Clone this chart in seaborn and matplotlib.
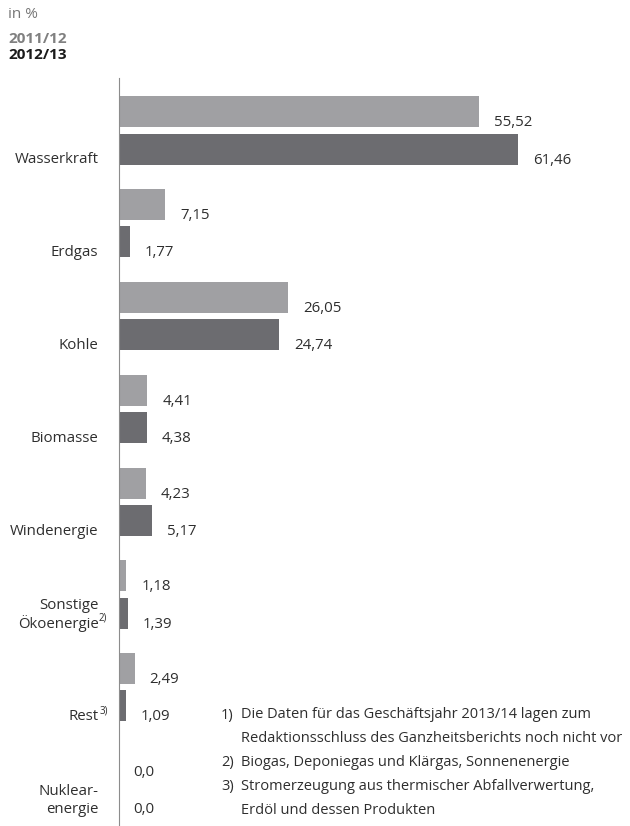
import numpy as np
import pandas as pd
import matplotlib
matplotlib.use("Agg")
import matplotlib.pyplot as plt
import seaborn as sns

# Daten (Anteile in %)
kategorien = ["Wasserkraft", "Erdgas", "Kohle", "Biomasse", "Windenergie",
              "Sonstige\nÖkoenergie", "Rest", "Nuklear-\nenergie"]
fussnoten_idx = {"Sonstige\nÖkoenergie": "2)", "Rest": "3)"}
werte_2011 = [55.52, 7.15, 26.05, 4.41, 4.23, 1.18, 2.49, 0.0]
werte_2012 = [61.46, 1.77, 24.74, 4.38, 5.17, 1.39, 1.09, 0.0]
jahre = ["2011/12", "2012/13"]
fussnoten = [
    ("1)", "Die Daten für das Geschäftsjahr 2013/14 lagen zum"),
    ("", "Redaktionsschluss des Ganzheitsberichts noch nicht vor"),
    ("2)", "Biogas, Deponiegas und Klärgas, Sonnenenergie"),
    ("3)", "Stromerzeugung aus thermischer Abfallverwertung,"),
    ("", "Erdöl und dessen Produkten"),
]

hell = "#a0a0a3"
dunkel = "#6c6c70"
text_farbe = "#2e2e2e"
fs = 10.8

sns.set_style("white")
plt.rcParams["font.family"] = ["Open Sans", "DejaVu Sans"]
plt.rcParams["font.size"] = fs

df = pd.DataFrame({
    "kategorie": kategorien * 2,
    "wert": werte_2011 + werte_2012,
    "jahr": [jahre[0]] * len(kategorien) + [jahre[1]] * len(kategorien),
})

W, H = 630, 826
fig = plt.figure(figsize=(W / 100, H / 100), dpi=100)
ax = fig.add_axes([118.5 / W, 0, 1 - 118.5 / W, 1 - 78 / H])

sns.barplot(data=df, x="wert", y="kategorie", hue="jahr", orient="h",
            palette=[hell, dunkel], saturation=1, width=0.8, gap=0.165,
            errorbar=None, legend=False, linewidth=0, ax=ax)

ax.set_xlim(0, 511.5 / 6.5)
ax.set_ylim(7.495, -0.566)
ax.set_xlabel("")
ax.set_ylabel("")
ax.set_xticks([])
ax.set_yticks([])
for s in ["top", "right", "bottom"]:
    ax.spines[s].set_visible(False)
ax.spines["left"].set_color("#8c8c8c")
ax.spines["left"].set_linewidth(0.8)

# Wertebeschriftungen
def fmt(v):
    return "0,0" if v == 0 else f"{v:.2f}".replace(".", ",")

for cont, werte in zip(ax.containers, [werte_2011, werte_2012]):
    for p, v in zip(cont.patches, werte):
        yc = p.get_y() + p.get_height() / 2
        ax.annotate(fmt(v), xy=(p.get_width(), yc), xycoords="data",
                    xytext=(10.8, -7.9), textcoords="offset points",
                    ha="left", va="center", color=text_farbe, fontsize=fs)

# Kategorienbeschriftungen
for i, kat in enumerate(kategorien):
    zeilen = kat.split("\n")
    for j, zeile in enumerate(reversed(zeilen)):
        dy = -21.2 + j * 13.3
        ax.annotate(zeile, xy=(0, i), xycoords=ax.get_yaxis_transform(),
                    xytext=(-14.4, dy), textcoords="offset points",
                    ha="right", va="center", color=text_farbe, fontsize=fs)
        if j == 0 and kat in fussnoten_idx:
            ax.annotate(fussnoten_idx[kat], xy=(0, i), xycoords=ax.get_yaxis_transform(),
                        xytext=(-14.0, dy + 4), textcoords="offset points",
                        ha="left", va="center", color=text_farbe, fontsize=7)

# Kopf
fig.text(8 / W, 1 - 15 / H, "in %", ha="left", va="center", color="#777777", fontsize=11)
fig.text(8 / W, 1 - 39 / H, jahre[0], ha="left", va="center", color="#808080",
         fontsize=11, fontweight="bold")
fig.text(8 / W, 1 - 55 / H, jahre[1], ha="left", va="center", color="#1a1a1a",
         fontsize=11, fontweight="bold")

# Fußnoten
for k, (nr, txt) in enumerate(fussnoten):
    y = 1 - (715 + k * 23.8) / H
    if nr:
        fig.text(221 / W, y, nr, ha="left", va="center", color=text_farbe, fontsize=10.5)
    fig.text(241 / W, y, txt, ha="left", va="center", color=text_farbe, fontsize=10.5)

fig.savefig("out.png", dpi=100)
